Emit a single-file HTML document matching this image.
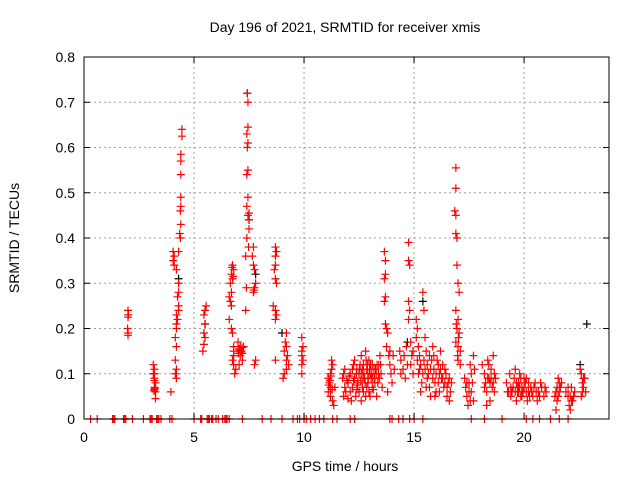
<!DOCTYPE html>
<html><head><meta charset="utf-8"><style>
body{margin:0;background:#fff;}
svg text{font-family:"Liberation Sans",sans-serif;font-size:14px;fill:#000;}
</style></head><body>
<svg id="chart" width="640" height="480">
<text x="345" y="32" text-anchor="middle">Day 196 of 2021, SRMTID for receiver xmis</text>
<text x="345" y="471" text-anchor="middle">GPS time / hours</text>
<text transform="translate(19,238) rotate(-90)" text-anchor="middle">SRMTID / TECUs</text>
<g id="grid"></g>
<g id="marks"></g>
<rect x="84" y="57" width="525" height="362" fill="none" stroke="#000" stroke-width="1"/>
<g id="ticks"></g>
</svg>
<script>
const xTicks = [0,5,10,15,20];
const yTicks = [0,0.1,0.2,0.3,0.4,0.5,0.6,0.7,0.8];
const yTickLabels = ["0","0.1","0.2","0.3","0.4","0.5","0.6","0.7","0.8"];
const zeroHours = [0.3,0.6,1.3,1.35,1.4,1.8,1.85,1.9,2.2,2.7,3.0,3.05,3.1,3.3,3.35,3.4,3.5,3.9,4.0,5.0,5.3,5.35,5.6,5.65,5.7,5.8,5.85,6.0,6.1,6.3,6.4,6.45,6.5,6.6,7.2,8.1,8.5,9.0,9.5,9.7,9.8,10.0,10.1,10.3,10.5,10.7,10.9,11.3,11.5,12.1,12.3,13.9,14.0,14.3,14.5,14.8,15.0,15.4,17.6,18.2,19.0,20.1,20.4,20.7,21.2,21.6,22.0];
const redPoints = [
[2.0,0.24],[2.0,0.23],[2.0,0.225],[1.98,0.2],[2.0,0.19],[2.0,0.185],[2.02,0.23],
[3.15,0.12],[3.2,0.11],[3.15,0.1],[3.2,0.09],[3.2,0.085],[3.25,0.08],[3.2,0.07],[3.2,0.065],[3.25,0.06],[3.25,0.045],[3.2,0.1],[3.95,0.06],[3.22,0.068],[3.18,0.062],
[4.05,0.37],[4.1,0.36],[4.05,0.35],[4.1,0.34],[4.3,0.37],[4.2,0.33],[4.3,0.3],[4.3,0.28],[4.25,0.27],[4.3,0.25],[4.3,0.24],[4.2,0.23],[4.25,0.22],[4.2,0.21],[4.2,0.2],[4.15,0.18],[4.2,0.16],[4.15,0.13],[4.2,0.11],[4.15,0.1],[4.2,0.09],
[4.45,0.64],[4.45,0.625],[4.4,0.585],[4.4,0.57],[4.4,0.54],[4.4,0.49],[4.4,0.47],[4.38,0.46],[4.4,0.43],[4.35,0.41],[4.38,0.4],
[5.55,0.25],[5.5,0.24],[5.45,0.23],[5.5,0.21],[5.45,0.19],[5.5,0.18],[5.45,0.165],[5.4,0.15],
[6.75,0.34],[6.8,0.33],[6.7,0.32],[6.75,0.31],[6.65,0.3],[6.7,0.28],[6.6,0.27],[6.65,0.26],[6.7,0.25],[6.6,0.22],[6.7,0.2],[6.75,0.19],[6.8,0.16],[6.8,0.15],[6.8,0.14],[6.75,0.13],[6.8,0.12],[6.9,0.11],[6.85,0.1],[6.72,0.335],[6.78,0.315],
[7.0,0.17],[7.1,0.16],[7.05,0.155],[7.15,0.15],[7.2,0.145],[7.1,0.14],[7.2,0.13],[7.05,0.12],[7.25,0.16],[7.08,0.152],[7.12,0.148],[7.18,0.158],[7.02,0.145],
[7.42,0.72],[7.45,0.7],[7.45,0.645],[7.4,0.63],[7.45,0.61],[7.42,0.6],[7.45,0.55],[7.4,0.54],[7.45,0.49],[7.4,0.47],[7.5,0.455],[7.45,0.45],[7.5,0.44],[7.5,0.42],[7.4,0.4],[7.48,0.38],[7.35,0.36],[7.38,0.29],[7.35,0.24],
[7.7,0.38],[7.65,0.36],[7.7,0.34],[7.75,0.33],[7.8,0.3],[7.75,0.29],[7.7,0.28],[7.8,0.13],[7.75,0.12],[7.72,0.285],
[8.7,0.38],[8.75,0.37],[8.7,0.36],[8.7,0.34],[8.65,0.33],[8.7,0.31],[8.75,0.3],[8.6,0.25],[8.7,0.24],[8.75,0.23],[8.7,0.22],[8.7,0.13],
[9.2,0.19],[9.15,0.17],[9.2,0.16],[9.1,0.15],[9.25,0.14],[9.2,0.13],[9.3,0.12],[9.2,0.11],[9.1,0.1],[9.05,0.09],
[9.9,0.18],[9.95,0.16],[9.9,0.15],[9.9,0.14],[9.95,0.13],[9.9,0.12],[9.9,0.1],
[11.1,0.09],[11.2,0.1],[11.15,0.08],[11.2,0.07],[11.1,0.06],[11.3,0.12],[11.25,0.13],[11.2,0.05],[11.3,0.04],[11.35,0.03],[11.4,0.07],[11.25,0.11],[11.12,0.075],[11.18,0.085],[11.28,0.065],[11.22,0.095],
[11.8,0.1],[11.75,0.09],[11.85,0.07],[11.9,0.06],[11.8,0.05],[12.0,0.08],[12.1,0.1],[12.1,0.06],[12.2,0.07],[12.3,0.09],[12.25,0.12],[12.3,0.13],[12.4,0.11],[12.45,0.08],[12.5,0.06],[12.35,0.05],[12.6,0.14],[12.6,0.1],[12.7,0.12],[12.75,0.09],[12.8,0.15],[12.85,0.11],[12.9,0.08],[12.95,0.13],[12.95,0.06],[13.0,0.1],[13.1,0.12],[13.1,0.07],[13.2,0.09],[13.25,0.11],[13.3,0.05],[13.35,0.08],[13.4,0.12],[13.45,0.14],[13.5,0.1],[13.55,0.07],[12.5,0.1],[12.6,0.04],[12.15,0.04],[13.0,0.05],[12.7,0.06],[12.9,0.1],[13.05,0.09],[12.55,0.12],
[11.95,0.085],[12.05,0.095],[12.2,0.11],[12.25,0.085],[12.38,0.1],[12.42,0.075],[12.52,0.11],[12.58,0.085],[12.65,0.11],[12.68,0.09],[12.72,0.1],[12.78,0.08],[12.82,0.13],[12.88,0.12],[12.92,0.09],[12.98,0.11],[13.02,0.12],[13.08,0.1],[13.12,0.09],[13.18,0.11],[13.22,0.08],[13.28,0.1],[13.32,0.12],[13.38,0.1],[13.42,0.09],[13.48,0.12],[12.4,0.065],[12.65,0.07],[12.85,0.07],[13.15,0.065],[11.85,0.11],[12.0,0.045],[12.8,0.05],
[13.65,0.37],[13.7,0.35],[13.7,0.32],[13.65,0.31],[13.7,0.27],[13.65,0.26],[13.7,0.21],[13.75,0.2],[13.8,0.19],[13.85,0.14],[13.9,0.12],[13.95,0.1],[14.0,0.08],[14.05,0.14],[13.8,0.06],[13.75,0.16],[13.9,0.15],[14.1,0.11],
[14.35,0.15],[14.4,0.13],[14.5,0.11],[14.6,0.09],[14.7,0.12],[14.65,0.16],[14.75,0.39],[14.75,0.35],[14.8,0.34],[14.75,0.26],[14.8,0.24],[14.75,0.22],[14.85,0.17],[14.9,0.14],[14.95,0.1],[14.4,0.1],[14.55,0.14],[14.85,0.12],[14.95,0.15],
[15.1,0.22],[15.15,0.2],[15.1,0.18],[15.2,0.16],[15.25,0.14],[15.3,0.12],[15.2,0.1],[15.35,0.08],[15.4,0.28],[15.45,0.24],[15.5,0.18],[15.55,0.15],[15.6,0.12],[15.6,0.09],[15.7,0.07],[15.8,0.13],[15.9,0.11],[15.85,0.16],[15.95,0.08],[16.0,0.06],[16.1,0.12],[16.15,0.1],[16.2,0.15],[16.3,0.09],[16.35,0.07],[16.4,0.11],[16.5,0.05],[16.55,0.08],[16.6,0.04],[15.75,0.05],[15.3,0.06],
[15.15,0.13],[15.25,0.11],[15.4,0.1],[15.45,0.13],[15.5,0.11],[15.65,0.1],[15.7,0.14],[15.75,0.11],[15.85,0.09],[15.9,0.14],[16.0,0.1],[16.05,0.13],[16.1,0.08],[16.2,0.11],[16.25,0.09],[16.3,0.12],[16.4,0.08],[16.45,0.1],[16.5,0.07],[16.6,0.09],[16.65,0.06],[16.7,0.08],[15.55,0.07],[15.95,0.05],[16.15,0.06],
[16.9,0.555],[16.9,0.51],[16.85,0.46],[16.9,0.45],[16.9,0.41],[16.95,0.4],[16.95,0.34],[17.0,0.3],[17.05,0.28],[16.9,0.24],[17.0,0.22],[16.95,0.2],[17.05,0.19],[16.9,0.17],[17.0,0.16],[17.1,0.15],[17.0,0.13],[17.1,0.12],[16.92,0.21],[17.02,0.18],[16.98,0.14],
[17.3,0.09],[17.35,0.07],[17.4,0.05],[17.45,0.03],[17.5,0.08],[17.55,0.12],[17.6,0.1],[17.7,0.14],[17.6,0.06],[17.7,0.04],[17.4,0.08],[17.5,0.06],[17.65,0.08],[17.55,0.04],[17.75,0.11],
[18.1,0.12],[18.2,0.1],[18.25,0.08],[18.3,0.06],[18.35,0.13],[18.4,0.09],[18.5,0.11],[18.55,0.07],[18.45,0.04],[18.6,0.14],[18.65,0.06],[18.3,0.03],[18.7,0.09],[18.2,0.07],[18.35,0.09],[18.45,0.08],[18.5,0.09],[18.6,0.08],[18.65,0.1],[18.4,0.12],
[19.2,0.08],[19.3,0.06],[19.35,0.1],[19.4,0.05],[19.5,0.07],[19.55,0.09],[19.6,0.11],[19.65,0.04],[19.7,0.06],[19.75,0.08],[19.8,0.1],[19.85,0.05],[19.9,0.07],[20.0,0.09],[20.1,0.06],[20.15,0.04],[20.2,0.08],[20.3,0.07],[20.4,0.05],[20.5,0.08],[20.6,0.04],[20.65,0.06],[20.8,0.07],[20.9,0.05],[21.0,0.06],
[19.25,0.06],[19.4,0.07],[19.45,0.06],[19.6,0.06],[19.65,0.08],[19.7,0.07],[19.75,0.06],[19.8,0.07],[19.85,0.09],[19.9,0.05],[19.95,0.06],[20.0,0.07],[20.05,0.08],[20.1,0.09],[20.2,0.06],[20.25,0.05],[20.35,0.06],[20.45,0.07],[20.55,0.06],[20.7,0.05],[20.75,0.08],[20.95,0.07],
[21.4,0.05],[21.5,0.07],[21.55,0.09],[21.6,0.06],[21.5,0.04],[21.45,0.02],[21.7,0.08],[21.9,0.06],[22.0,0.05],[22.05,0.03],[22.1,0.02],[22.15,0.07],[22.2,0.04],[22.3,0.06],[21.45,0.06],[21.55,0.05],[21.6,0.08],[21.65,0.07],[22.0,0.07],[22.1,0.05],[22.15,0.04],[22.25,0.05],
[22.55,0.11],[22.6,0.1],[22.65,0.08],[22.7,0.07],[22.75,0.09],[22.6,0.05],[22.8,0.06],[22.65,0.06],[22.7,0.09]
];
const blackPoints = [[7.42,0.72],[7.5,0.44],[7.8,0.32],[9.0,0.19],[5.5,0.21],[4.3,0.31],[22.85,0.21],[22.55,0.12],[15.4,0.26],[14.7,0.17]];

const X0=84, X1=609, Y0=419, Y1=57, XMAX=23.86, YMAX=0.8;
function sx(v){return X0+(v/XMAX)*(X1-X0);}
function sy(v){return Y0-(v/YMAX)*(Y0-Y1);}
const NS="http://www.w3.org/2000/svg";
const grid=document.getElementById('grid'), ticks=document.getElementById('ticks'), marks=document.getElementById('marks');
function mk(tag,attrs,parent){const e=document.createElementNS(NS,tag);for(const k in attrs)e.setAttribute(k,attrs[k]);parent.appendChild(e);return e;}
yTicks.forEach((v,i)=>{
  const y=sy(v);
  if(i>0&&i<yTicks.length-1){const g=mk('line',{x1:X0,x2:X1,y1:y,y2:y,stroke:'#a0a0a0','stroke-dasharray':'2,3'},grid);
    
    }
  const t=mk('text',{x:X0-9,y:y+5,'text-anchor':'end'},ticks);t.textContent=yTickLabels[i];
  
  
  mk('line',{x1:X0,x2:X0+6,y1:y,y2:y,stroke:'#000'},ticks);
  mk('line',{x1:X1,x2:X1-6,y1:y,y2:y,stroke:'#000'},ticks);
});
xTicks.forEach(v=>{
  const x=sx(v);
  if(v>0){const g=mk('line',{x1:x,x2:x,y1:Y0,y2:Y1,stroke:'#a0a0a0','stroke-dasharray':'2,3'},grid);
    
    }
  const t=mk('text',{x:x,y:Y0+23,'text-anchor':'middle'},ticks);t.textContent=String(v);
  
  
  mk('line',{x1:x,x2:x,y1:Y0,y2:Y0-6,stroke:'#000'},ticks);
  mk('line',{x1:x,x2:x,y1:Y1,y2:Y1+6,stroke:'#000'},ticks);
});
function plus(x,y,color,name){
  const p=mk('path',{d:`M${x-4},${y}h8M${x},${y-4}v8`,stroke:color,'stroke-width':1.2,fill:'none'},marks);
  
  
}
blackPoints.forEach(p=>plus(sx(p[0]),sy(p[1]),'#000','black-point'));
redPoints.forEach(p=>plus(sx(p[0]),sy(p[1]),'#ff0000','red-point'));
zeroHours.forEach(h=>plus(sx(h),sy(0),'#ff0000','zero-point'));
</script>
</body></html>
